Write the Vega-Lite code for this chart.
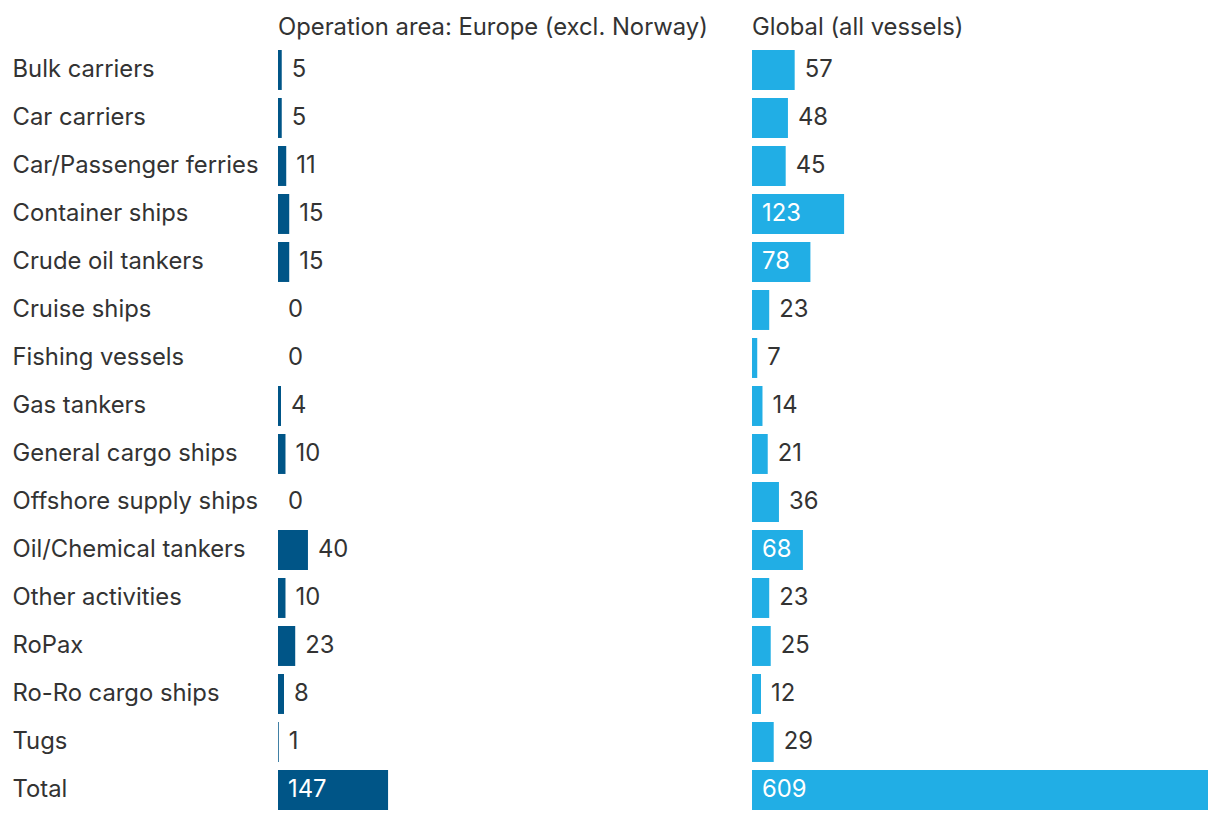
{
  "$schema": "https://vega.github.io/schema/vega-lite/v6.json",
  "background": "white",
  "padding": {"left": 12, "top": 16, "right": 0, "bottom": 0},
  "config": {
    "view": {"stroke": null},
    "font": "Inter",
    "text": {"font": "Inter"}
  },
  "data": {
    "values": [
      {"category": "Bulk carriers", "area": "Operation area: Europe (excl. Norway)", "value": 5},
      {"category": "Car carriers", "area": "Operation area: Europe (excl. Norway)", "value": 5},
      {"category": "Car/Passenger ferries", "area": "Operation area: Europe (excl. Norway)", "value": 11},
      {"category": "Container ships", "area": "Operation area: Europe (excl. Norway)", "value": 15},
      {"category": "Crude oil tankers", "area": "Operation area: Europe (excl. Norway)", "value": 15},
      {"category": "Cruise ships", "area": "Operation area: Europe (excl. Norway)", "value": 0},
      {"category": "Fishing vessels", "area": "Operation area: Europe (excl. Norway)", "value": 0},
      {"category": "Gas tankers", "area": "Operation area: Europe (excl. Norway)", "value": 4},
      {"category": "General cargo ships", "area": "Operation area: Europe (excl. Norway)", "value": 10},
      {"category": "Offshore supply ships", "area": "Operation area: Europe (excl. Norway)", "value": 0},
      {"category": "Oil/Chemical tankers", "area": "Operation area: Europe (excl. Norway)", "value": 40},
      {"category": "Other activities", "area": "Operation area: Europe (excl. Norway)", "value": 10},
      {"category": "RoPax", "area": "Operation area: Europe (excl. Norway)", "value": 23},
      {"category": "Ro-Ro cargo ships", "area": "Operation area: Europe (excl. Norway)", "value": 8},
      {"category": "Tugs", "area": "Operation area: Europe (excl. Norway)", "value": 1},
      {"category": "Total", "area": "Operation area: Europe (excl. Norway)", "value": 147},
      {"category": "Bulk carriers", "area": "Global (all vessels)", "value": 57},
      {"category": "Car carriers", "area": "Global (all vessels)", "value": 48},
      {"category": "Car/Passenger ferries", "area": "Global (all vessels)", "value": 45},
      {"category": "Container ships", "area": "Global (all vessels)", "value": 123},
      {"category": "Crude oil tankers", "area": "Global (all vessels)", "value": 78},
      {"category": "Cruise ships", "area": "Global (all vessels)", "value": 23},
      {"category": "Fishing vessels", "area": "Global (all vessels)", "value": 7},
      {"category": "Gas tankers", "area": "Global (all vessels)", "value": 14},
      {"category": "General cargo ships", "area": "Global (all vessels)", "value": 21},
      {"category": "Offshore supply ships", "area": "Global (all vessels)", "value": 36},
      {"category": "Oil/Chemical tankers", "area": "Global (all vessels)", "value": 68},
      {"category": "Other activities", "area": "Global (all vessels)", "value": 23},
      {"category": "RoPax", "area": "Global (all vessels)", "value": 25},
      {"category": "Ro-Ro cargo ships", "area": "Global (all vessels)", "value": 12},
      {"category": "Tugs", "area": "Global (all vessels)", "value": 29},
      {"category": "Total", "area": "Global (all vessels)", "value": 609}
    ]
  },
  "facet": {
    "column": {
      "field": "area",
      "type": "nominal",
      "sort": ["Operation area: Europe (excl. Norway)", "Global (all vessels)"],
      "title": null,
      "header": {
        "labelFont": "Inter",
        "labelFontSize": 23.8,
        "labelColor": "#333333",
        "labelAlign": "left",
        "labelAnchor": "start",
        "labelPadding": 6
      }
    }
  },
  "spacing": 18,
  "resolve": {"scale": {"x": "shared", "y": "shared"}},
  "spec": {
    "width": 456,
    "height": {"step": 48},
    "encoding": {
      "y": {
        "field": "category",
        "type": "nominal",
        "sort": null,
        "scale": {"paddingInner": 0.167, "paddingOuter": 0.083},
        "axis": {
          "title": null,
          "ticks": false,
          "domain": false,
          "labelAlign": "left",
          "labelPadding": 266,
          "labelFont": "Inter",
          "labelFontSize": 23.8,
          "labelColor": "#333333",
          "labelLimit": 400
        }
      }
    },
    "layer": [
      {
        "mark": {"type": "bar"},
        "encoding": {
          "x": {"field": "value", "type": "quantitative", "scale": {"domain": [0, 609], "nice": false}, "axis": null},
          "color": {
            "field": "area",
            "type": "nominal",
            "scale": {"domain": ["Operation area: Europe (excl. Norway)", "Global (all vessels)"], "range": ["#005587", "#21aee5"]},
            "legend": null
          }
        }
      },
      {
        "transform": [{"filter": "datum.value <= 60"}],
        "mark": {"type": "text", "align": "left", "baseline": "middle", "dx": 10, "fontSize": 23.8, "color": "#333333"},
        "encoding": {
          "x": {"field": "value", "type": "quantitative"},
          "text": {"field": "value", "type": "quantitative"}
        }
      },
      {
        "transform": [{"filter": "datum.value > 60"}],
        "mark": {"type": "text", "align": "left", "baseline": "middle", "dx": 10, "fontSize": 23.8, "color": "white"},
        "encoding": {
          "x": {"datum": 0},
          "text": {"field": "value", "type": "quantitative"}
        }
      }
    ]
  }
}
